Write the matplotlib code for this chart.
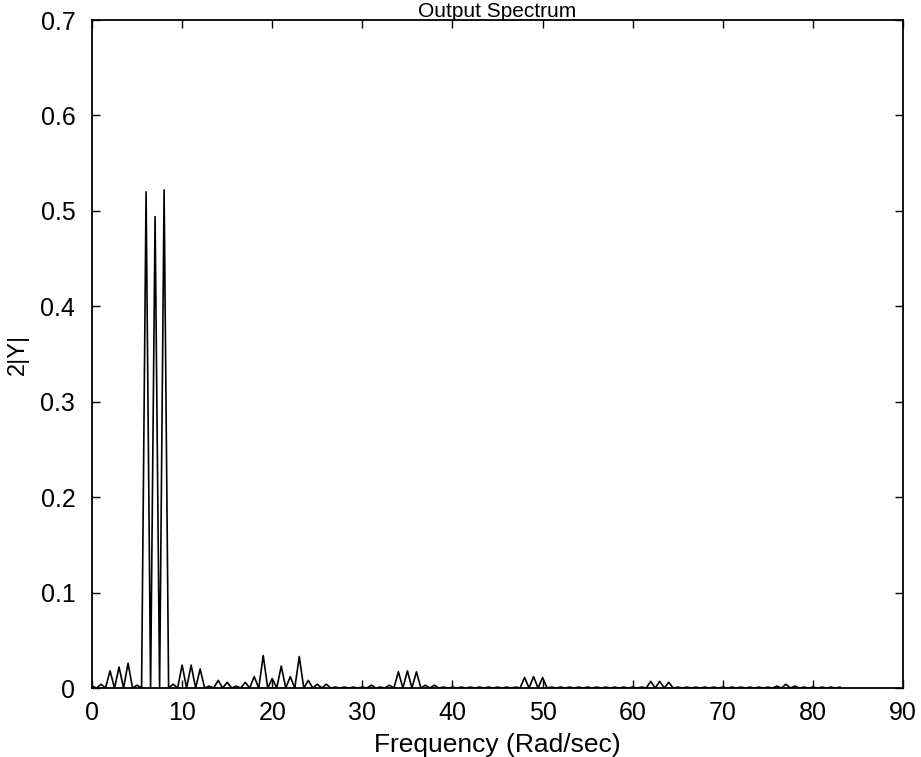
import numpy as np
import matplotlib.pyplot as plt

plt.rcParams['font.family'] = ['Liberation Sans', 'DejaVu Sans']

# harmonic amplitudes read at integer frequencies 0..83 rad/s
harm_freq = list(range(0, 84))
harm_amp = [0.002, 0.004, 0.018, 0.022, 0.026, 0.003, 0.520, 0.494, 0.522, 0.004,
            0.024, 0.024, 0.020, 0.002, 0.008, 0.006, 0.002, 0.006, 0.012, 0.034,
            0.010, 0.023, 0.012, 0.033, 0.008, 0.004, 0.004, 0.001, 0.001, 0.001,
            0.001, 0.003, 0.001, 0.003, 0.017, 0.018, 0.017, 0.003, 0.003, 0.001,
            0.001, 0.001, 0.001, 0.001, 0.001, 0.001, 0.001, 0.001, 0.011, 0.012,
            0.011, 0.001, 0.001, 0.001, 0.001, 0.001, 0.001, 0.001, 0.001, 0.001,
            0.001, 0.001, 0.007, 0.007, 0.006, 0.001, 0.001, 0.001, 0.001, 0.001,
            0.001, 0.001, 0.001, 0.001, 0.001, 0.001, 0.002, 0.004, 0.002, 0.001,
            0.001, 0.001, 0.001, 0.001]
# values at the half-step bins in between (line drops to ~0)
mid_freq = [k + 0.5 for k in range(0, 83)]
mid_amp = [0.0] * 83

freq = np.empty(len(harm_freq) + len(mid_freq))
amp = np.empty_like(freq)
freq[0::2] = harm_freq
freq[1::2] = mid_freq
amp[0::2] = harm_amp
amp[1::2] = mid_amp

xticks = [0, 10, 20, 30, 40, 50, 60, 70, 80, 90]
yticks = [0, 0.1, 0.2, 0.3, 0.4, 0.5, 0.6, 0.7]
ytick_labels = ['0', '0.1', '0.2', '0.3', '0.4', '0.5', '0.6', '0.7']

fig = plt.figure(figsize=(9.21, 7.57), dpi=100)
ax = fig.add_axes([0.0999, 0.0911, 0.8806, 0.8824])
ax.plot(freq, amp, color='black', linewidth=1.2)

ax.set_xlim(0, 90)
ax.set_ylim(0, 0.7)
ax.set_xticks(xticks)
ax.set_xticklabels([str(t) for t in xticks])
ax.set_yticks(yticks)
ax.set_yticklabels(ytick_labels)
ax.tick_params(direction='in', length=6, width=1, top=True, right=True,
               labelsize=18)
ax.tick_params(axis='x', pad=9)
ax.tick_params(axis='y', pad=12)
for s in ax.spines.values():
    s.set_linewidth(1.3)

ax.set_title('Output Spectrum', fontsize=15, pad=2)
ax.set_xlabel('Frequency (Rad/sec)', fontsize=19, labelpad=6)
ax.set_ylabel('2|Y|', fontsize=17, labelpad=8)

fig.savefig('out.png', dpi=100)
